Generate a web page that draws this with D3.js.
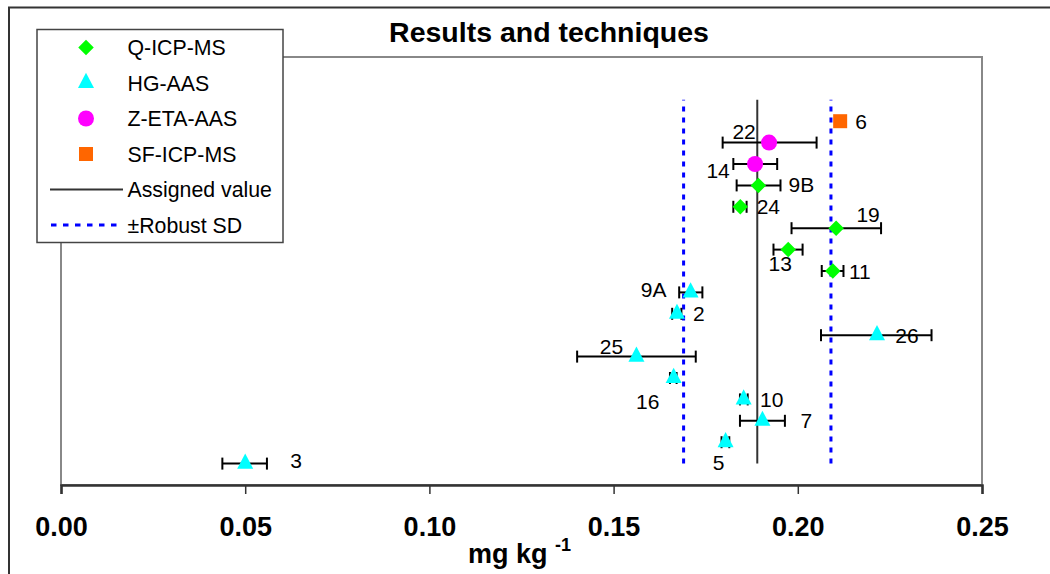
<!DOCTYPE html>
<html>
<head>
<meta charset="utf-8">
<script src="https://cdn.jsdelivr.net/npm/d3@7"></script>
<style>
  html, body { margin: 0; padding: 0; background: #fff; }
  svg { display: block; font-family: "Liberation Sans", Arial, sans-serif; }
</style>
</head>
<body>
<svg id="chart" width="1050" height="574"></svg>
<script>
// ---------- data ----------
const labs       = ["6", "22", "14", "9B", "24", "19", "13", "11", "9A", "2", "26", "25", "16", "10", "7", "5", "3"];
const techniques = ["SF-ICP-MS", "Z-ETA-AAS", "Z-ETA-AAS", "Q-ICP-MS", "Q-ICP-MS", "Q-ICP-MS", "Q-ICP-MS", "Q-ICP-MS",
                    "HG-AAS", "HG-AAS", "HG-AAS", "HG-AAS", "HG-AAS", "HG-AAS", "HG-AAS", "HG-AAS", "HG-AAS"];
const results    = [0.2115, 0.1922, 0.1884, 0.1893, 0.1844, 0.2104, 0.1974, 0.2095, 0.1709, 0.1672, 0.2215, 0.1562, 0.1663, 0.1853, 0.1904, 0.1804, 0.0500];
const lowerErr   = [null, 0.1796, 0.1825, 0.1834, 0.1825, 0.1983, 0.1934, 0.2065, 0.1678, 0.1659, 0.2063, 0.1401, 0.1653, 0.1843, 0.1843, 0.1793, 0.0438];
const upperErr   = [null, 0.2051, 0.1944, 0.1953, 0.1861, 0.2226, 0.2013, 0.2124, 0.1741, 0.1684, 0.2363, 0.1723, 0.1671, 0.1864, 0.1965, 0.1814, 0.0559];
const rowPos     = [17, 16, 15, 14, 13, 12, 11, 10, 9, 8, 7, 6, 5, 4, 3, 2, 1];
// label placement relative to marker (px)
const labelDx    = [21, -25, -37, 43, 28, 32, -8, 27, -37, 22, 30, -25, -26, 28, 44, -7, 51];
const labelDy    = [0, -11, 6, -1, 0, -14, 14, 0, -3, 0, 0, -10, 23, 0, 0, 20, -3];

const assignedValue = 0.189;
const robustSD = 0.020;
const lineRange = [1, 18];

const xTicks = [0.00, 0.05, 0.10, 0.15, 0.20, 0.25];
const legendItems = ["Q-ICP-MS", "HG-AAS", "Z-ETA-AAS", "SF-ICP-MS", "Assigned value", "\u00B1Robust SD"];
const techColors = { "Q-ICP-MS": "#00FF00", "HG-AAS": "#00FFFF", "Z-ETA-AAS": "#FF00FF", "SF-ICP-MS": "#FF6600" };

// ---------- custom symbol shapes (size = width in px) ----------
const diamondSym = { draw(ctx, s) { const r = s / 2; ctx.moveTo(0, -r); ctx.lineTo(r, 0); ctx.lineTo(0, r); ctx.lineTo(-r, 0); ctx.closePath(); } };
const triangleSym = { draw(ctx, s) { const w = s, h = s * 0.95; ctx.moveTo(0, -h * 2 / 3); ctx.lineTo(w / 2, h / 3); ctx.lineTo(-w / 2, h / 3); ctx.closePath(); } };
const circleSym = { draw(ctx, s) { const r = s / 2; ctx.moveTo(r, 0); ctx.arc(0, 0, r, 0, 2 * Math.PI); } };
const squareSym = { draw(ctx, s) { const r = s / 2; ctx.rect(-r, -r, s, s); } };
const techSymbols = {
  "Q-ICP-MS": [diamondSym, 15.5],
  "HG-AAS": [triangleSym, 16],
  "Z-ETA-AAS": [circleSym, 16],
  "SF-ICP-MS": [squareSym, 14]
};
function symPath(tech) {
  const [t, s] = techSymbols[tech];
  return d3.symbol().type(t).size(s)();
}

// ---------- layout ----------
const svg = d3.select("#chart");
const plot = { left: 61, right: 982, top: 57, bottom: 485 };
const x = d3.scaleLinear().domain([0, 0.25]).range([plot.left, plot.right]);
const y = d3.scaleLinear().domain([0, 20]).range([plot.bottom, plot.top]);

// outer chart border
svg.append("rect").attr("x", 9).attr("y", 7.5).attr("width", 1100).attr("height", 600)
  .attr("fill", "#fff").attr("stroke", "#333").attr("stroke-width", 2);

// plot area border
svg.append("rect").attr("x", plot.left).attr("y", plot.top)
  .attr("width", plot.right - plot.left).attr("height", plot.bottom - plot.top)
  .attr("fill", "#fff").attr("stroke", "#888").attr("stroke-width", 2);

// x axis
const xAxis = d3.axisBottom(x).tickValues(xTicks).tickSize(9).tickFormat(d3.format(".2f"));
const gx = svg.append("g").attr("transform", `translate(0,${plot.bottom})`).call(xAxis);
gx.select(".domain").attr("stroke", "#333").attr("stroke-width", 2.5);
gx.selectAll(".tick line").attr("stroke", "#333").attr("stroke-width", 1.5);
gx.selectAll(".tick text").attr("fill", "#000").attr("font-size", 27).attr("font-weight", "bold")
  .attr("font-family", "'Liberation Sans', Arial, sans-serif").attr("dy", 0).attr("y", 51);

// axis title
const at = svg.append("text").attr("x", 468).attr("y", 563).attr("font-size", 27).attr("font-weight", "bold").attr("fill", "#000");
at.append("tspan").text("mg kg ");
at.append("tspan").attr("font-size", 18).attr("dy", -12).text("-1");

// chart title
svg.append("text").attr("x", 549).attr("y", 42).attr("text-anchor", "middle")
  .attr("font-size", 28.5).attr("font-weight", "bold").attr("fill", "#000").text("Results and techniques");

// reference lines
svg.append("line").attr("x1", x(assignedValue)).attr("x2", x(assignedValue))
  .attr("y1", y(lineRange[0])).attr("y2", y(lineRange[1])).attr("stroke", "#333").attr("stroke-width", 2);
[assignedValue - robustSD, assignedValue + robustSD].forEach(v => {
  svg.append("line").attr("x1", x(v)).attr("x2", x(v))
    .attr("y1", y(lineRange[0])).attr("y2", y(lineRange[1]))
    .attr("stroke", "#0000FF").attr("stroke-width", 3).attr("stroke-dasharray", "5,6");
});

// data rows
const rows = labs.map((l, i) => ({ lab: l, tech: techniques[i], v: results[i], lo: lowerErr[i], hi: upperErr[i], pos: rowPos[i], dx: labelDx[i], dy: labelDy[i] }));

const eb = svg.append("g").attr("stroke", "#000").attr("stroke-width", 2);
rows.filter(r => r.lo != null).forEach(r => {
  const yy = y(r.pos);
  eb.append("line").attr("x1", x(r.lo)).attr("x2", x(r.hi)).attr("y1", yy).attr("y2", yy);
  eb.append("line").attr("x1", x(r.lo)).attr("x2", x(r.lo)).attr("y1", yy - 6).attr("y2", yy + 6);
  eb.append("line").attr("x1", x(r.hi)).attr("x2", x(r.hi)).attr("y1", yy - 6).attr("y2", yy + 6);
});

svg.append("g").selectAll("path").data(rows).join("path")
  .attr("d", r => symPath(r.tech))
  .attr("transform", r => `translate(${x(r.v)},${y(r.pos)})`)
  .attr("fill", r => techColors[r.tech]);

svg.append("g").selectAll("text").data(rows).join("text")
  .attr("x", r => x(r.v) + r.dx).attr("y", r => y(r.pos) + r.dy)
  .attr("dy", "0.36em").attr("text-anchor", "middle")
  .attr("font-size", 21).attr("fill", "#000").text(r => r.lab);

// legend
const lg = svg.append("g");
lg.append("rect").attr("x", 37).attr("y", 29.5).attr("width", 246).attr("height", 213)
  .attr("fill", "#fff").attr("stroke", "#444").attr("stroke-width", 1.5);
const legY0 = 47.5, legStep = 35.5;
legendItems.forEach((name, i) => {
  const yy = legY0 + i * legStep;
  if (techColors[name]) {
    lg.append("path").attr("d", symPath(name)).attr("transform", `translate(86,${yy})`).attr("fill", techColors[name]);
  } else if (i === 4) {
    lg.append("line").attr("x1", 50).attr("x2", 123).attr("y1", yy).attr("y2", yy).attr("stroke", "#333").attr("stroke-width", 2);
  } else {
    lg.append("line").attr("x1", 51).attr("x2", 123).attr("y1", yy).attr("y2", yy).attr("stroke", "#0000FF").attr("stroke-width", 3).attr("stroke-dasharray", "5.5,6.5");
  }
  lg.append("text").attr("x", 127.5).attr("y", yy).attr("dy", "0.36em").attr("font-size", 21.3).attr("fill", "#000").text(name);
});
</script>
</body>
</html>
